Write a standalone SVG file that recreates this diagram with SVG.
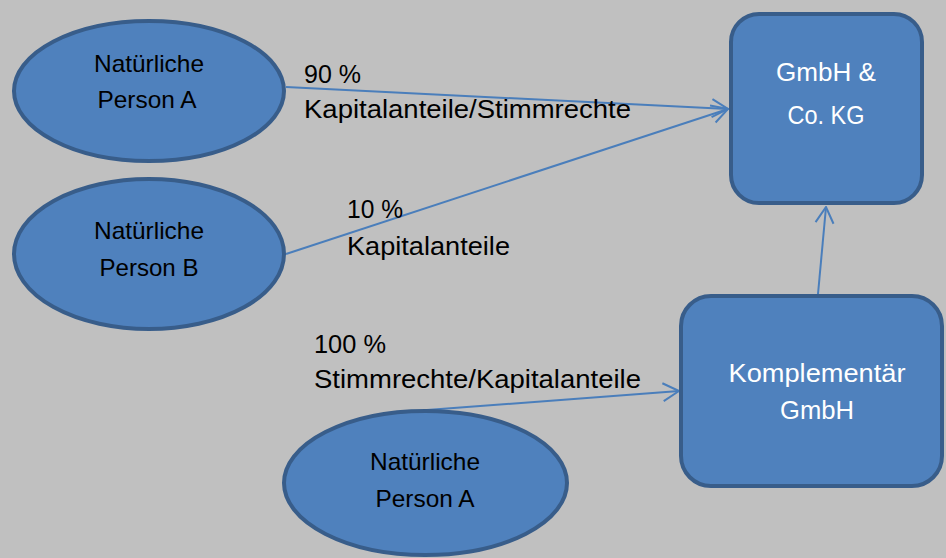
<svg xmlns="http://www.w3.org/2000/svg" width="946" height="558" viewBox="0 0 946 558">
<defs>
<style>
.node{fill:#4f81bd;stroke:#385d8a;stroke-width:4}
.dark{font-family:"Liberation Sans",Arial,sans-serif;font-size:24px;fill:#000;text-anchor:middle}
.light{font-family:"Liberation Sans",Arial,sans-serif;font-size:26px;fill:#fff;text-anchor:middle}
.lbl{font-family:"Liberation Sans",Arial,sans-serif;font-size:26px;fill:#000}
.conn{stroke:#4a7ebb;stroke-width:2;fill:none;marker-end:url(#arr)}
</style>
<marker id="arr" markerUnits="userSpaceOnUse" viewBox="0 0 18 22" refX="17" refY="11" markerWidth="18" markerHeight="22" orient="auto">
<path d="M1,2 L17,11 L1,20" fill="none" stroke="#4a7ebb" stroke-width="2"/>
</marker>
</defs>
<rect width="946" height="558" fill="#c0c0c0"/>
<g id="connectors">
<line class="conn" x1="286" y1="87" x2="728" y2="109"/>
<line class="conn" x1="286" y1="254" x2="728" y2="109"/>
<line class="conn" x1="427" y1="410" x2="679" y2="391"/>
<line class="conn" x1="818" y1="294" x2="826" y2="207"/>
</g>
<g id="personA1">
<ellipse class="node" cx="149" cy="91" rx="135" ry="70"/>
<text class="dark" x="149" y="72" textLength="110" lengthAdjust="spacingAndGlyphs">Natürliche</text>
<text class="dark" x="147" y="108" textLength="99" lengthAdjust="spacingAndGlyphs">Person A</text>
</g>
<g id="personB">
<ellipse class="node" cx="149" cy="254" rx="135" ry="75"/>
<text class="dark" x="149" y="239" textLength="110" lengthAdjust="spacingAndGlyphs">Natürliche</text>
<text class="dark" x="149" y="276" textLength="99" lengthAdjust="spacingAndGlyphs">Person B</text>
</g>
<g id="personA2">
<ellipse class="node" cx="425.5" cy="483" rx="141.5" ry="72"/>
<text class="dark" x="425" y="470" textLength="110" lengthAdjust="spacingAndGlyphs">Natürliche</text>
<text class="dark" x="425" y="507" textLength="99" lengthAdjust="spacingAndGlyphs">Person A</text>
</g>
<g id="kg">
<rect class="node" x="731" y="14" width="191" height="189" rx="28"/>
<text class="light" x="826" y="81" textLength="100" lengthAdjust="spacingAndGlyphs">GmbH &amp;</text>
<text class="light" x="826" y="124" textLength="77" lengthAdjust="spacingAndGlyphs">Co. KG</text>
</g>
<g id="komplementaer">
<rect class="node" x="681" y="296" width="261" height="190" rx="30"/>
<text class="light" x="817" y="382" textLength="177" lengthAdjust="spacingAndGlyphs">Komplementär</text>
<text class="light" x="817" y="419" textLength="74" lengthAdjust="spacingAndGlyphs">GmbH</text>
</g>
<g id="labels">
<text class="lbl" x="304" y="83" textLength="57" lengthAdjust="spacingAndGlyphs">90 %</text>
<text class="lbl" x="304" y="118" textLength="327" lengthAdjust="spacingAndGlyphs">Kapitalanteile/Stimmrechte</text>
<text class="lbl" x="347" y="218" textLength="56" lengthAdjust="spacingAndGlyphs">10 %</text>
<text class="lbl" x="347" y="255" textLength="163" lengthAdjust="spacingAndGlyphs">Kapitalanteile</text>
<text class="lbl" x="314" y="353" textLength="72" lengthAdjust="spacingAndGlyphs">100 %</text>
<text class="lbl" x="314" y="388" textLength="327" lengthAdjust="spacingAndGlyphs">Stimmrechte/Kapitalanteile</text>
</g>
</svg>
